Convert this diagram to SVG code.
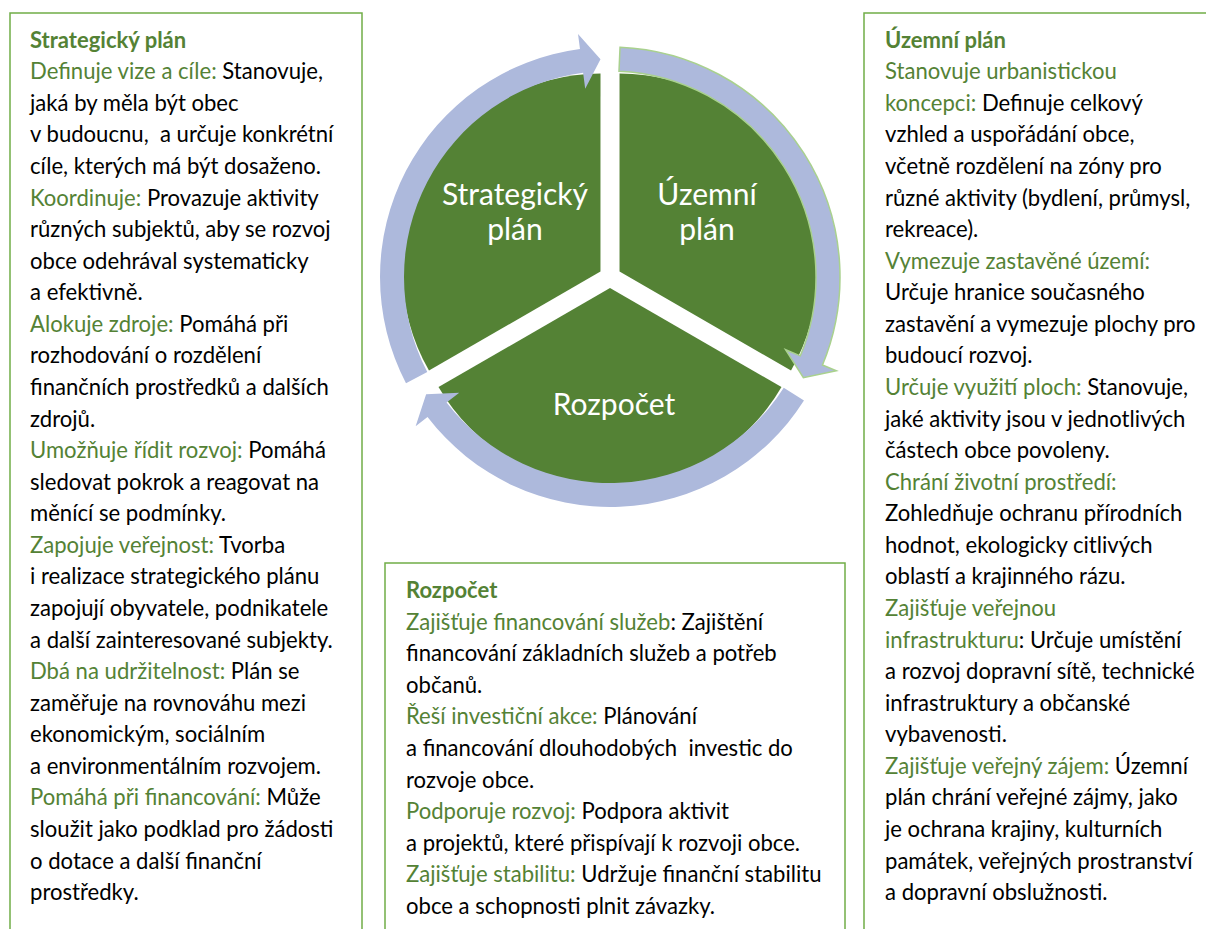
<svg xmlns="http://www.w3.org/2000/svg" width="1206" height="929" viewBox="0 0 1206 929">
<style>
text{font-family:Lato,"Liberation Sans",sans-serif;white-space:pre}
.t{font-size:22.1px;fill:#000}
.g{fill:#548235}
.h{font-size:22px;font-weight:bold;fill:#548235}
.box{fill:#fff;stroke:#70AD47;stroke-width:1.5}
.sec{fill:#548235}
.lab{font-size:30px;fill:#fff;text-anchor:middle}
.arc{fill:#ADB9DC}
</style>
<rect width="1206" height="929" fill="#fff"/>

<g id="box-strategicky">
<rect class="box" x="10" y="13" width="352" height="930"/>
<text class="h" x="30" y="48">Strategický plán</text>
<text class="t" x="30" y="79.3"><tspan class="g">Definuje vize a cíle:</tspan> Stanovuje,</text>
<text class="t" x="30" y="110.9">jaká by měla být obec</text>
<text class="t" x="30" y="142.4">v budoucnu,  a určuje konkrétní</text>
<text class="t" x="30" y="174">cíle, kterých má být dosaženo.</text>
<text class="t" x="30" y="205.6"><tspan class="g">Koordinuje:</tspan> Provazuje aktivity</text>
<text class="t" x="30" y="237.2">různých subjektů, aby se rozvoj</text>
<text class="t" x="30" y="268.7">obce odehrával systematicky</text>
<text class="t" x="30" y="300.3">a efektivně.</text>
<text class="t" x="30" y="331.9"><tspan class="g">Alokuje zdroje:</tspan> Pomáhá při</text>
<text class="t" x="30" y="363.4">rozhodování o rozdělení</text>
<text class="t" x="30" y="395">finančních prostředků a dalších</text>
<text class="t" x="30" y="426.6">zdrojů.</text>
<text class="t" x="30" y="458.1"><tspan class="g">Umožňuje řídit rozvoj:</tspan> Pomáhá</text>
<text class="t" x="30" y="489.7">sledovat pokrok a reagovat na</text>
<text class="t" x="30" y="521.3">měnící se podmínky.</text>
<text class="t" x="30" y="552.9"><tspan class="g">Zapojuje veřejnost:</tspan> Tvorba</text>
<text class="t" x="30" y="584.4">i realizace strategického plánu</text>
<text class="t" x="30" y="616">zapojují obyvatele, podnikatele</text>
<text class="t" x="30" y="647.6">a další zainteresované subjekty.</text>
<text class="t" x="30" y="679.1"><tspan class="g">Dbá na udržitelnost:</tspan> Plán se</text>
<text class="t" x="30" y="710.7">zaměřuje na rovnováhu mezi</text>
<text class="t" x="30" y="742.3">ekonomickým, sociálním</text>
<text class="t" x="30" y="773.8">a environmentálním rozvojem.</text>
<text class="t" x="30" y="805.4"><tspan class="g">Pomáhá při financování:</tspan> Může</text>
<text class="t" x="30" y="837">sloužit jako podklad pro žádosti</text>
<text class="t" x="30" y="868.5">o dotace a další finanční</text>
<text class="t" x="30" y="900.1">prostředky.</text>
</g>

<g id="box-uzemni">
<rect class="box" x="864" y="13" width="360" height="930"/>
<text class="h" x="885" y="48">Územní plán</text>
<text class="t" x="885" y="79.3"><tspan class="g">Stanovuje urbanistickou</tspan></text>
<text class="t" x="885" y="110.9"><tspan class="g">koncepci:</tspan> Definuje celkový</text>
<text class="t" x="885" y="142.4">vzhled a uspořádání obce,</text>
<text class="t" x="885" y="174">včetně rozdělení na zóny pro</text>
<text class="t" x="885" y="205.6">různé aktivity (bydlení, průmysl,</text>
<text class="t" x="885" y="237.2">rekreace).</text>
<text class="t" x="885" y="268.7"><tspan class="g">Vymezuje zastavěné území:</tspan></text>
<text class="t" x="885" y="300.3">Určuje hranice současného</text>
<text class="t" x="885" y="331.9">zastavění a vymezuje plochy pro</text>
<text class="t" x="885" y="363.4">budoucí rozvoj.</text>
<text class="t" x="885" y="395"><tspan class="g">Určuje využití ploch:</tspan> Stanovuje,</text>
<text class="t" x="885" y="426.6">jaké aktivity jsou v jednotlivých</text>
<text class="t" x="885" y="458.1">částech obce povoleny.</text>
<text class="t" x="885" y="489.7"><tspan class="g">Chrání životní prostředí:</tspan></text>
<text class="t" x="885" y="521.3">Zohledňuje ochranu přírodních</text>
<text class="t" x="885" y="552.9">hodnot, ekologicky citlivých</text>
<text class="t" x="885" y="584.4">oblastí a krajinného rázu.</text>
<text class="t" x="885" y="616"><tspan class="g">Zajišťuje veřejnou</tspan></text>
<text class="t" x="885" y="647.6"><tspan class="g">infrastrukturu</tspan>: Určuje umístění</text>
<text class="t" x="885" y="679.1">a rozvoj dopravní sítě, technické</text>
<text class="t" x="885" y="710.7">infrastruktury a občanské</text>
<text class="t" x="885" y="742.3">vybavenosti.</text>
<text class="t" x="885" y="773.8"><tspan class="g">Zajišťuje veřejný zájem:</tspan> Územní</text>
<text class="t" x="885" y="805.4">plán chrání veřejné zájmy, jako</text>
<text class="t" x="885" y="837">je ochrana krajiny, kulturních</text>
<text class="t" x="885" y="868.5">památek, veřejných prostranství</text>
<text class="t" x="885" y="900.1">a dopravní obslužnosti.</text>
</g>

<g id="box-rozpocet">
<rect class="box" x="385" y="563" width="460" height="380"/>
<text class="h" x="406" y="598">Rozpočet</text>
<text class="t" x="406" y="629.5"><tspan class="g">Zajišťuje financování služeb</tspan>: Zajištění</text>
<text class="t" x="406" y="661.1">financování základních služeb a potřeb</text>
<text class="t" x="406" y="692.7">občanů.</text>
<text class="t" x="406" y="724.3"><tspan class="g">Řeší investiční akce:</tspan> Plánování</text>
<text class="t" x="406" y="755.9">a financování dlouhodobých  investic do</text>
<text class="t" x="406" y="787.5">rozvoje obce.</text>
<text class="t" x="406" y="819.1"><tspan class="g">Podporuje rozvoj:</tspan> Podpora aktivit</text>
<text class="t" x="406" y="850.7">a projektů, které přispívají k rozvoji obce.</text>
<text class="t" x="406" y="882.3"><tspan class="g">Zajišťuje stabilitu:</tspan> Udržuje finanční stabilitu</text>
<text class="t" x="406" y="913.9">obce a schopnosti plnit závazky.</text>
</g>

<g id="sector-strategicky">
<path class="sec" d="M600.47 271.5 L428.99 370.5 A198 198 0 0 1 600.47 73.5 Z"/>
<text class="lab" x="515" y="205">Strategický</text>
<text class="lab" x="515" y="240">plán</text>
</g>
<g id="sector-uzemni">
<path class="sec" d="M619.53 271.5 L619.53 73.5 A198 198 0 0 1 791.03 370.5 Z"/>
<text class="lab" x="707" y="205">Územní</text>
<text class="lab" x="707" y="240">plán</text>
</g>
<g id="sector-rozpocet">
<path class="sec" d="M610 288 L781.47 387 A198 198 0 0 1 438.53 387 Z"/>
<text class="lab" x="614" y="415">Rozpočet</text>
</g>

<g id="connectors">
<path class="arc" stroke="#A9D18E" stroke-width="1.5" d="M620.03 47.22 A230 230 0 0 1 822.49 365.02 L836.35 370.76 L803.37 377.66 L785.54 349.71 L800.32 355.83 A206 206 0 0 0 618.99 71.2 Z"/>
<path class="arc" d="M803.98 400.58 A230 230 0 0 1 427.53 417.02 L415.63 426.15 L426.14 394.13 L459.26 392.66 L446.57 402.4 A206 206 0 0 0 783.74 387.68 Z"/>
<path class="arc" d="M405.99 383.2 A230 230 0 0 1 579.98 48.97 L578.02 34.1 L600.49 59.21 L585.2 88.63 L583.11 72.76 A206 206 0 0 0 427.28 372.12 Z"/>
</g>
</svg>
